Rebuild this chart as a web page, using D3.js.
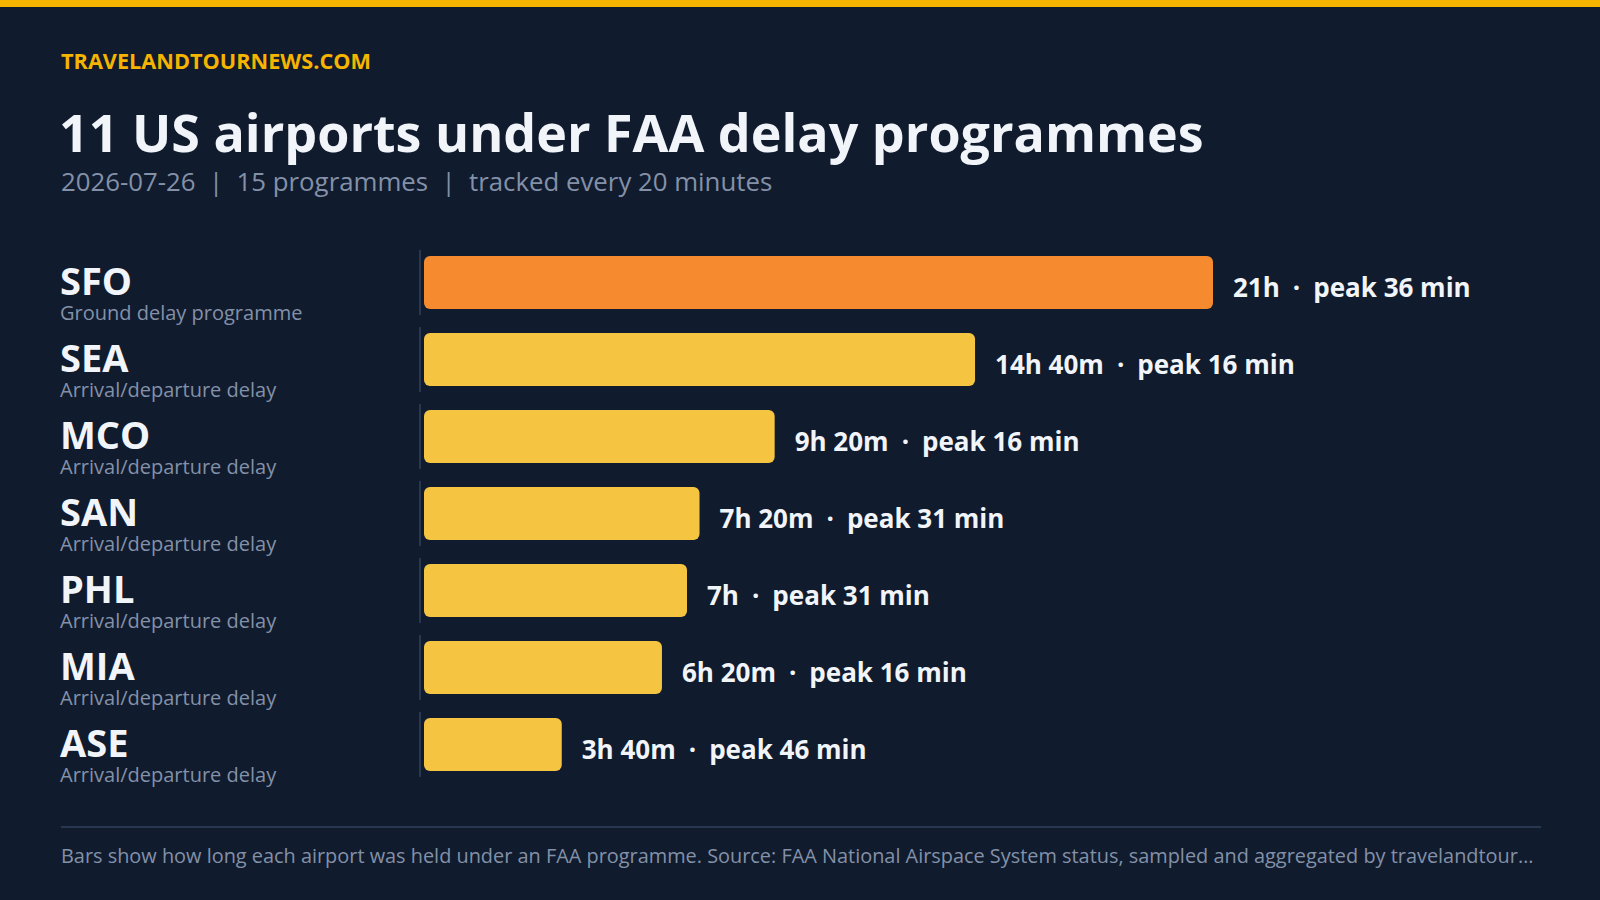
<!DOCTYPE html>
<html>
<head>
<meta charset="utf-8">
<script src="https://cdn.jsdelivr.net/npm/d3@7"></script>
<style>
  html, body { margin: 0; padding: 0; background: #111b2e; }
  svg { display: block; font-family: "Open Sans", "Noto Sans", sans-serif; }
</style>
</head>
<body>
<svg width="1600" height="900"></svg>
<script>
// data
var airports = ["SFO", "SEA", "MCO", "SAN", "PHL", "MIA", "ASE"];
var programmeTypes = ["Ground delay programme", "Arrival/departure delay", "Arrival/departure delay",
  "Arrival/departure delay", "Arrival/departure delay", "Arrival/departure delay", "Arrival/departure delay"];
var durationMin = [1260, 880, 560, 440, 420, 380, 220];   // minutes under a programme
var peakDelayMin = [36, 16, 16, 31, 31, 16, 46];

var kicker = "TRAVELANDTOURNEWS.COM";
var title = "11 US airports under FAA delay programmes";
var subtitle = ["2026-07-26", "15 programmes", "tracked every 20 minutes"];
var footnote = "Bars show how long each airport was held under an FAA programme. Source: FAA National Airspace System status, sampled and aggregated by travelandtournews.com";

var svg = d3.select("svg"),
    W = 1600, H = 900,
    left = 61, right = 1541;

var data = airports.map(function(a, i) {
  return {code: a, type: programmeTypes[i], dur: durationMin[i], peak: peakDelayMin[i]};
});

function fmtDur(m) {
  var h = Math.floor(m / 60), r = m % 60;
  return r ? h + "h " + r + "m" : h + "h";
}

// background + top stripe
svg.append("rect").attr("width", W).attr("height", H).attr("fill", "#111b2e");
svg.append("rect").attr("width", W).attr("height", 7).attr("fill", "#f5b400");

// header texts
svg.append("text").attr("x", left).attr("y", 69)
  .attr("fill", "#f5b400").attr("font-size", 21.7).attr("font-weight", 700)
  .text(kicker);
svg.append("text").attr("x", left - 2).attr("y", 152)
  .attr("fill", "#f1f5f9").attr("font-size", 52).attr("font-weight", 700)
  .text(title);
svg.append("text").attr("x", left).attr("y", 191)
  .attr("fill", "#8391a8").attr("font-size", 25.8)
  .attr("xml:space", "preserve")
  .text(subtitle.join("  |  "));

// scales
var y = d3.scaleBand().domain(airports).range([244, 244 + 77 * airports.length]);
var x = d3.scaleLinear().domain([0, d3.max(durationMin)]).range([424, 1213]);

var rows = svg.append("g").selectAll("g")
  .data(data)
  .enter().append("g")
    .attr("transform", function(d) { return "translate(0," + y(d.code) + ")"; });

// divider segment per row
rows.append("rect")
  .attr("x", 419).attr("y", 6)
  .attr("width", 2).attr("height", y.bandwidth() - 12)
  .attr("fill", "#27374f");

// bars
rows.append("rect")
  .attr("x", x(0))
  .attr("y", 12)
  .attr("width", function(d) { return x(d.dur) - x(0); })
  .attr("height", 53)
  .attr("rx", 6)
  .attr("fill", function(d, i) { return i === 0 ? "#f58a2f" : "#f5c542"; });

// row labels
rows.append("text")
  .attr("x", left - 1).attr("y", 51)
  .attr("fill", "#f1f5f9").attr("font-size", 38).attr("font-weight", 700)
  .text(function(d) { return d.code; });
rows.append("text")
  .attr("x", left - 1).attr("y", 76)
  .attr("fill", "#8391a8").attr("font-size", 20)
  .text(function(d) { return d.type; });

// value labels
rows.append("text")
  .attr("x", function(d) { return x(d.dur) + 20; })
  .attr("y", 53)
  .attr("fill", "#f1f5f9").attr("font-size", 26).attr("font-weight", 700)
  .text(function(d) { return fmtDur(d.dur) + "\u2002\u00b7\u2002peak " + d.peak + " min"; });

// footer
svg.append("line")
  .attr("x1", left).attr("x2", right)
  .attr("y1", 827).attr("y2", 827)
  .attr("stroke", "#27374f").attr("stroke-width", 2);

var foot = svg.append("text").attr("x", left).attr("y", 863)
  .attr("fill", "#8391a8").attr("font-size", 19.9)
  .text(footnote);
var maxW = right - left, s = footnote;
while (foot.node().getComputedTextLength() > maxW && s.length > 0) {
  s = s.slice(0, -1);
  foot.text(s.replace(/\s+$/, "") + "\u2026");
}
</script>
</body>
</html>
